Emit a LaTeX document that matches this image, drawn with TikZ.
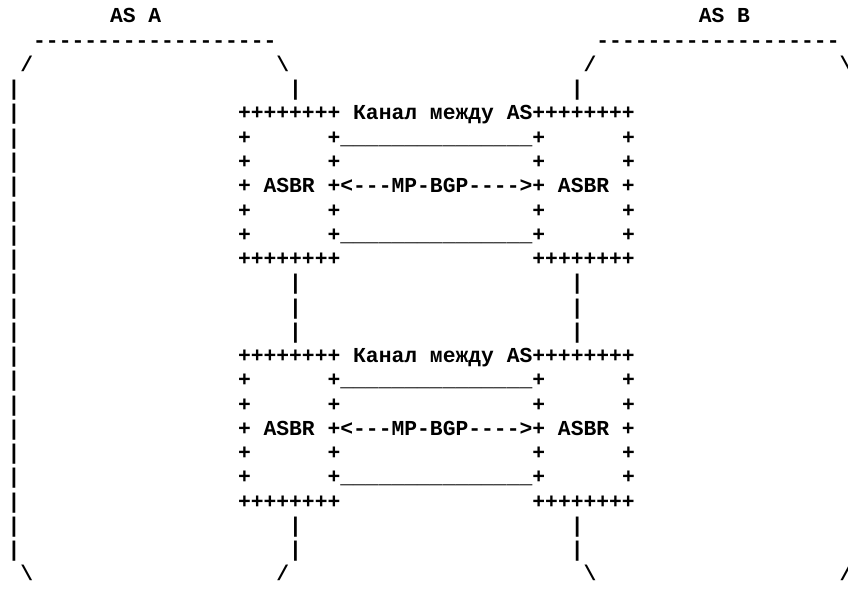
\documentclass[tikz,border=0pt]{standalone}
\usepackage{fontspec}
\setmonofont{Liberation Mono}
\newcommand\asciifont{\ttfamily\bfseries\fontsize{21.33}{24}\selectfont}
\tikzset{txt/.style={anchor=base west, inner sep=0pt, outer sep=0pt, font=\asciifont, text=black}}
% #1 name, #2 column, #3 row, #4 text
\newcommand\seg[4]{\node[txt] (#1) at ({7.6+12.8*(#2)},{23+24.25*((#3)-1)}) {#4};}
\newcommand\unders{\_\_\_\_\_\_\_\_\_\_\_\_\_\_\_}
\newcommand\asbrblock[2]{%
  \seg{#1t}{18}{#2}{++++++++ Канал между AS++++++++}
  \seg{#1a1}{18}{#2+1}{+}\seg{#1a2}{25}{#2+1}{+\unders+}\seg{#1a3}{48}{#2+1}{+}
  \seg{#1b1}{18}{#2+2}{+}\seg{#1b2}{25}{#2+2}{+}\seg{#1b3}{41}{#2+2}{+}\seg{#1b4}{48}{#2+2}{+}
  \seg{#1c}{18}{#2+3}{+ ASBR +<---MP-BGP---->+ ASBR +}
  \seg{#1d1}{18}{#2+4}{+}\seg{#1d2}{25}{#2+4}{+}\seg{#1d3}{41}{#2+4}{+}\seg{#1d4}{48}{#2+4}{+}
  \seg{#1e1}{18}{#2+5}{+}\seg{#1e2}{25}{#2+5}{+\unders+}\seg{#1e3}{48}{#2+5}{+}
  \seg{#1f1}{18}{#2+6}{++++++++}\seg{#1f2}{41}{#2+6}{++++++++}
}
\begin{document}
\begin{tikzpicture}[x=1pt,y=-1pt]
\useasboundingbox[fill=white] (0,0) rectangle (848,596);
\clip (0,0) rectangle (848,596);
% AS labels and tops
\seg{asA}{8}{1}{AS A}
\seg{asB}{54}{1}{AS B}
\seg{topA}{2}{2}{-------------------}
\seg{topB}{46}{2}{-------------------}
\seg{slA1}{1}{3}{/}
\seg{bsA1}{21}{3}{\textbackslash}
\seg{slB1}{45}{3}{/}
\seg{bsB1}{65}{3}{\textbackslash}
% left outer bar
\foreach \r in {4,...,23} {\seg{L\r}{0}{\r}{|}}
% inner bars
\foreach \r in {4,12,13,14,22,23} {\seg{M\r}{22}{\r}{|}\seg{N\r}{44}{\r}{|}}
% router blocks
\asbrblock{u}{5}
\asbrblock{v}{15}
% bottoms
\seg{bsA2}{1}{24}{\textbackslash}
\seg{slA2}{21}{24}{/}
\seg{bsB2}{45}{24}{\textbackslash}
\seg{slB2}{65}{24}{/}
\end{tikzpicture}
\end{document}
